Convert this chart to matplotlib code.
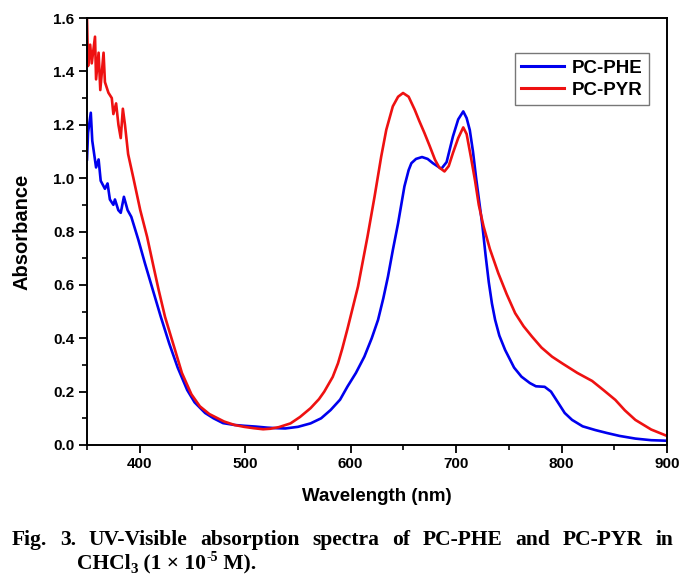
import numpy as np
import matplotlib
matplotlib.use("Agg")
import matplotlib.pyplot as plt

# PC-PHE (blue)
phe_wl = [350, 351, 353.6, 355, 358.6, 361, 363, 367, 369.5, 371.7, 375, 376.5,
          379.7, 382, 385, 388.5, 392, 398.6, 405, 411, 420, 428, 436, 445,
          452, 462, 470, 479, 490, 499, 510, 521, 530, 538, 550, 562, 572,
          581, 590, 597, 605, 613, 620, 626, 631, 635.4, 640, 645, 651, 655,
          657.6, 662, 667.7, 673, 678, 686, 691, 697, 702, 706.8, 710, 713,
          716, 719, 722, 725, 728, 731, 734, 737, 741, 746.5, 755, 762, 770,
          775.7, 784, 790, 797, 803, 810, 820, 832, 843, 855, 870, 885, 900]
phe_abs = [1.07, 1.17, 1.245, 1.14, 1.04, 1.07, 0.99, 0.96, 0.98, 0.92, 0.90, 0.92,
           0.88, 0.87, 0.93, 0.88, 0.855, 0.77, 0.68, 0.60, 0.48, 0.38, 0.29, 0.206,
           0.16, 0.12, 0.10, 0.082, 0.075, 0.072, 0.069, 0.065, 0.063, 0.062, 0.068, 0.081, 0.10,
           0.131, 0.17, 0.219, 0.27, 0.331, 0.40, 0.469, 0.55, 0.631, 0.73, 0.831, 0.969, 1.03,
           1.056, 1.072, 1.079, 1.072, 1.056, 1.035, 1.06, 1.156, 1.22, 1.25, 1.225, 1.18,
           1.10, 1.0, 0.91, 0.82, 0.71, 0.61, 0.53, 0.469, 0.41, 0.356, 0.29, 0.256, 0.232,
           0.22, 0.218, 0.20, 0.157, 0.12, 0.094, 0.07, 0.056, 0.045, 0.034, 0.024, 0.018, 0.016]

# PC-PYR (red)
pyr_wl = [350, 351, 353, 354.5, 357.6, 358.6, 361, 362.6, 365.7, 367, 370.3, 373.5,
          375, 377.6, 379.8, 382, 384, 386, 389, 394, 400.5, 407, 413, 418,
          424, 432.5, 440, 449, 457, 466, 480, 490, 499, 508, 517, 524, 532,
          543, 552, 562, 570, 575, 583, 588, 592, 597, 607, 616, 622.7, 629,
          633.8, 640, 645, 649.7, 655, 660.8, 665, 670, 675, 680, 684, 689, 693,
          697, 702, 706.8, 710, 714, 718, 721.5, 726, 732, 740, 748, 756, 764,
          772, 781, 791, 801, 815, 829, 840, 851, 860, 870, 885, 900]
pyr_abs = [1.60, 1.42, 1.50, 1.43, 1.53, 1.37, 1.47, 1.33, 1.47, 1.36, 1.32, 1.30,
           1.24, 1.28, 1.20, 1.15, 1.26, 1.20, 1.09, 1.00, 0.88, 0.78, 0.67, 0.58,
           0.48, 0.369, 0.27, 0.19, 0.145, 0.116, 0.088, 0.075, 0.068, 0.063, 0.059, 0.061, 0.067,
           0.081, 0.105, 0.138, 0.172, 0.2, 0.255, 0.306, 0.36, 0.435, 0.594, 0.781, 0.931, 1.081,
           1.181, 1.269, 1.305, 1.319, 1.305, 1.256, 1.215, 1.169, 1.12, 1.069, 1.04, 1.025, 1.045,
           1.094, 1.15, 1.19, 1.165, 1.08, 0.99, 0.90, 0.82, 0.735, 0.644, 0.565, 0.494, 0.445,
           0.406, 0.365, 0.331, 0.305, 0.27, 0.24, 0.205, 0.169, 0.13, 0.094, 0.058, 0.034]

series = [("PC-PHE", phe_wl, phe_abs, "#0000ee"),
          ("PC-PYR", pyr_wl, pyr_abs, "#ee1111")]

sans = "Liberation Sans"
serif = "Liberation Serif"

W, H = 699, 584
fig = plt.figure(figsize=(W / 100, H / 100), dpi=100)
ax = fig.add_axes([87 / W, 1 - 445 / H, (667 - 87) / W, (445 - 18) / H])

for name, x, y, c in series:
    ax.plot(x, y, color=c, lw=1.9, label=name, solid_joinstyle="round")

ax.set_xlim(350, 900)
ax.set_ylim(0, 1.6)
ax.set_xticks(np.arange(400, 901, 100))
ax.set_xticks(np.arange(350, 901, 50), minor=True)
ax.set_yticks(np.arange(0, 1.61, 0.2))
ax.set_yticks(np.arange(0, 1.61, 0.1), minor=True)
ax.yaxis.set_major_formatter(matplotlib.ticker.FormatStrFormatter("%.1f"))
ax.tick_params(which="major", length=6, width=1.3, pad=3)
ax.tick_params(which="minor", length=3.5, width=1.2)
for lab in ax.get_xticklabels() + ax.get_yticklabels():
    lab.set_fontfamily(sans)
    lab.set_fontweight("bold")
    lab.set_fontsize(11)
for s in ax.spines.values():
    s.set_linewidth(1.4)

ax.set_xlabel("Wavelength (nm)", fontfamily=sans, fontweight="bold",
              fontsize=13.5, labelpad=12)
ax.set_ylabel("Absorbance", fontfamily=sans, fontweight="bold",
              fontsize=14.5, labelpad=16)

leg = ax.legend(loc="upper right", bbox_to_anchor=(0.969, 0.918),
                borderaxespad=0,
                prop={"family": sans, "weight": "bold", "size": 13.5},
                frameon=True, fancybox=False, handlelength=2.3,
                handletextpad=0.4, borderpad=0.35, labelspacing=0.25)
leg.get_frame().set_edgecolor("#555555")
leg.get_frame().set_linewidth(1.0)
for h in leg.get_lines():
    h.set_linewidth(2.2)

# caption: first line justified, second line built from pieces
r = fig.canvas.get_renderer()
cap = dict(fontfamily=serif, fontweight="bold", va="baseline")
words = "Fig. 3. UV-Visible absorption spectra of PC-PHE and PC-PYR in".split(" ")
x0, x1 = 12, 673
texts = [fig.text(0, 1 - 545 / H, w, fontsize=15.5, **cap) for w in words]
widths = [t.get_window_extent(r).width for t in texts]
gap = (x1 - x0 - sum(widths)) / (len(words) - 1)
xx = x0
for t, wdt in zip(texts, widths):
    t.set_x(xx / W)
    xx += wdt + gap

base2 = 569
pieces = [("CHCl", 15.5, 0), ("3", 11, 4), (" (1 × 10", 15.5, 0),
          ("-5", 10, -8), (" M).", 15.5, 0)]
xx = 77
for s, fs, dy in pieces:
    t = fig.text(xx / W, 1 - (base2 + dy) / H, s, fontsize=fs, **cap)
    xx += t.get_window_extent(r).width

fig.savefig("out.png", dpi=100)
